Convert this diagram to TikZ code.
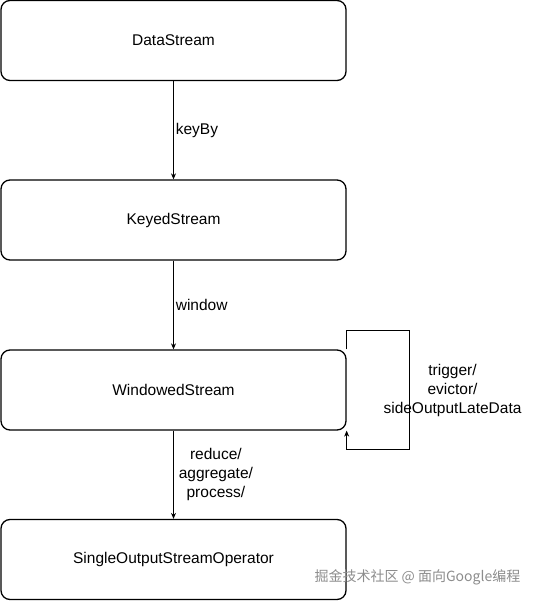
\documentclass[tikz,border=0pt]{standalone}
\usepackage{fontspec}
\setmainfont{Liberation Sans}
\newfontfamily\cjkfont{Noto Sans CJK SC}
\usetikzlibrary{arrows.meta}

\begin{document}
\begin{tikzpicture}[
    x=1pt, y=1pt,
    >={Stealth[length=6pt,width=5pt]},
    stream box/.style={draw=black,line width=1.3pt,rounded corners=9pt,
        minimum width=345pt,minimum height=80pt,inner sep=0pt,
        font=\fontsize{15.5}{19}\selectfont},
    api edge/.style={->,black,line width=0.7pt},
    api label/.style={font=\fontsize{15.5}{19}\selectfont,align=center,inner sep=2pt},
    watermark/.style={font=\cjkfont\fontsize{14}{16}\selectfont,text=black!45}
]
\useasboundingbox (0,0) rectangle (537,-601);

% Caixas dos streams
\node[stream box] (data)     at (173.5,-40.5)  {DataStream};
\node[stream box] (keyed)    at (173.5,-220)   {KeyedStream};
\node[stream box] (windowed) at (173.5,-390)   {WindowedStream};
\node[stream box] (single)   at (173.5,-559.5) {SingleOutputStreamOperator};

% Transformações entre os streams
\draw[api edge] (data) -- node[api label,right] {keyBy} (keyed);
\draw[api edge] (keyed) -- node[api label,right] {window} (windowed);
\draw[api edge] (windowed) -- node[api label,right,xshift=3pt]
    {reduce/\\aggregate/\\process/} (single);

% Laço sobre o WindowedStream
\coordinate (loop top) at (409,-330);
\coordinate (loop bottom) at (409,-449);
\draw[api edge] (windowed.north east) |- (loop top) -- (loop bottom)
    -| (windowed.south east);
\node[api label] (loop text) at (452.5,-390) {trigger/\\evictor/\\sideOutputLateData};

% Marca d'água
\node[watermark,anchor=west] (mark) at (311,-577) {掘金技术社区 @ 面向Google编程};

\end{tikzpicture}
\end{document}
